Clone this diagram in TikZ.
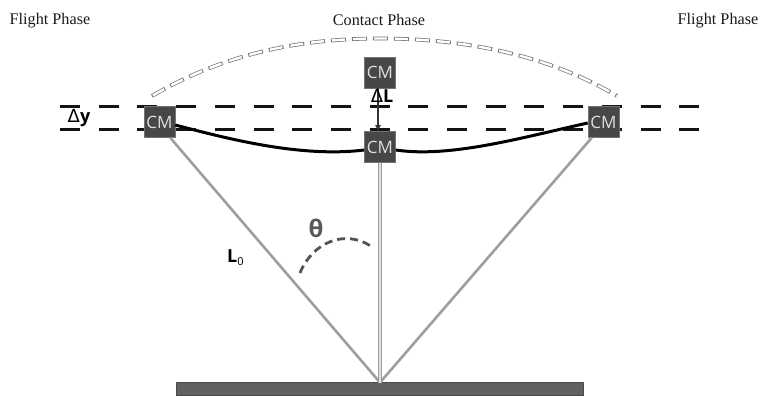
\documentclass[tikz,border=0pt]{standalone}
\usepackage{fontspec}
\usetikzlibrary{arrows.meta}
\setmainfont{Liberation Serif}
\setsansfont{Open Sans}
\newfontfamily\deltafont{DejaVu Sans}
\begin{document}
\begin{tikzpicture}[x=1pt,y=-1pt,
  cmbox/.style={fill=black!72,draw=black!55,line width=0.5pt,minimum size=31pt,inner sep=0pt,text=black!12,font=\sffamily\fontsize{17}{17}\selectfont},
  phase/.style={font=\fontsize{16.2}{17}\selectfont,text=black!90,inner sep=0pt},
  guide/.style={line width=2.4pt,black!92,dash pattern=on 20pt off 18.7pt},
  leg/.style={line width=2.6pt,black!38},
  centreleg/.style={line width=1.2pt,black!38,double=black!12,double distance=1.6pt},
  traj/.style={line width=3pt,black},
  flightpath/.style={black!55,line width=3.8pt,dash pattern=on 15pt off 6pt,
    postaction={draw,white,line width=2.4pt,dash pattern=on 13pt off 8pt,dash phase=20pt}},
  anglearc/.style={line width=2.8pt,black!68,dash pattern=on 8pt off 5pt},
  lbl/.style={inner sep=0pt,font=\sffamily\fontsize{18}{18}\selectfont}]
\useasboundingbox (0,0) rectangle (769,406);
% guide lines
\coordinate (gla) at (60,106.5);\coordinate (glb) at (700,106.5);
\coordinate (gma) at (60,129.5);\coordinate (gmb) at (700,129.5);
\draw[guide] (gla) -- (glb);
\draw[guide] (gma) -- (gmb);
% ground
\node[fill=black!62,draw=black!70,line width=0.4pt,minimum width=407pt,minimum height=13pt,inner sep=0pt] (ground) at (379.5,389) {};
\coordinate (foot) at (380,382.5);
% body nodes
\node[cmbox] (left) at (159.5,122) {CM};
\node[cmbox] (top) at (380,72.5) {CM};
\node[cmbox] (mid) at (380,147) {CM};
\node[cmbox] (right) at (603.5,122) {CM};
% legs
\draw[leg] ([xshift=-5pt]left.south east) -- (foot);
\draw[leg] ([xshift=4pt]right.south west) -- (foot);
\draw[centreleg] (mid.south) -- (foot);
% trajectory
\draw[traj] ([yshift=-3pt]left.east) .. controls (225,138) and (300,158) .. ([yshift=-3pt]mid.west);
\draw[traj] ([yshift=-3pt]mid.east) .. controls (450,158) and (520,138) .. ([yshift=-1pt]right.west);
% flight path
\coordinate (pa) at (152,96);\coordinate (pb) at (380,38.5);\coordinate (pc) at (617,96);
\draw[flightpath] (pa) .. controls (230,50) and (310,38.5) .. (pb) .. controls (450,38.5) and (540,50) .. (pc);
% delta L arrow
\draw[black!80,line width=1.2pt,-{Latex[length=6pt,width=6pt]}] ([xshift=-2pt]top.south) -- ([xshift=-2pt]mid.north);
% angle
\coordinate (aa) at (300,273);\coordinate (ab) at (372,247);
\draw[anglearc] (aa) .. controls (312,243) and (345,228) .. (ab);
% labels
\node[phase] (fl) at (50,21) {Flight Phase};
\node[phase] (cp) at (379,20) {Contact Phase};
\node[phase] (fr) at (718,21) {Flight Phase};
\node[lbl] (dl) at (382,96) {{\deltafont Δ}\textbf{L}};
\node[lbl] (dy) at (79,118) {{\deltafont Δ}\textbf{y}};
\node[lbl,font=\sffamily\bfseries\fontsize{18}{18}\selectfont,anchor=west] (l0) at (227,258) {L\raisebox{-3pt}{\fontsize{11}{11}\selectfont\mdseries 0}};
\node[inner sep=0pt,text=black!65,font=\sffamily\bfseries\fontsize{24}{24}\selectfont] (th) at (316,228) {θ};
\end{tikzpicture}
\end{document}
